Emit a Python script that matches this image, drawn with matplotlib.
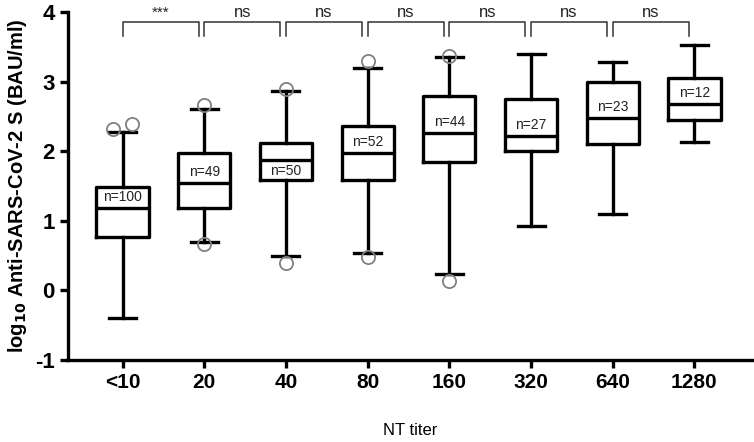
import matplotlib
matplotlib.use("Agg")
import matplotlib.pyplot as plt

plt.rcParams['font.family'] = ['Liberation Sans', 'DejaVu Sans']
plt.rcParams['axes.unicode_minus'] = False

# -----------------------------
# Data
# -----------------------------
titers = ['<10', '20', '40', '80', '160', '320', '640', '1280']
counts = [100, 49, 50, 52, 44, 27, 23, 12]
whis_lo = [-0.40, 0.69, 0.50, 0.53, 0.24, 0.92, 1.10, 2.13]
q1 = [0.77, 1.19, 1.58, 1.58, 1.85, 2.00, 2.11, 2.45]
median = [1.18, 1.54, 1.88, 1.97, 2.26, 2.22, 2.47, 2.68]
q3 = [1.49, 1.97, 2.12, 2.36, 2.79, 2.75, 3.00, 3.05]
whis_hi = [2.27, 2.60, 2.87, 3.20, 3.35, 3.39, 3.28, 3.53]
outliers = [[2.32, 2.39], [2.67, 0.66], [2.90, 0.40], [3.29, 0.48],
            [3.36, 0.14], [], [], []]
signif = ['***', 'ns', 'ns', 'ns', 'ns', 'ns', 'ns']

stats = []
for i in range(len(titers)):
    stats.append(dict(med=median[i], q1=q1[i], q3=q3[i],
                      whislo=whis_lo[i], whishi=whis_hi[i], fliers=[]))

fig = plt.figure(figsize=(7.54, 4.42), dpi=100)
ax = fig.add_axes([0.09, 0.1855, 0.909, 0.7875])

positions = list(range(len(titers)))
ax.bxp(stats, positions=positions, widths=0.64, showfliers=False,
       boxprops=dict(color='black', linewidth=2.4),
       medianprops=dict(color='black', linewidth=2.4),
       whiskerprops=dict(color='black', linewidth=2.4),
       capprops=dict(color='black', linewidth=2.4),
       capwidths=0.33)

# outliers: spread points that lie close together
for i, pts in enumerate(outliers):
    xs = [positions[i]] * len(pts)
    if len(pts) == 2 and abs(pts[0] - pts[1]) < 0.2:
        xs = [positions[i] - 0.12, positions[i] + 0.12]
    ax.plot(xs, pts, linestyle='none', marker='o', markerfacecolor='none',
            markeredgecolor='#808080', markersize=9.5, markeredgewidth=1.3,
            zorder=3)

# n labels next to the median line (below it when the upper half is narrow)
for i, n in enumerate(counts):
    if q3[i] - median[i] < 0.25:
        ax.text(positions[i], median[i] - 0.06, 'n=%d' % n, ha='center',
                va='top', fontsize=10, color='#222222')
    else:
        ax.text(positions[i], median[i] + 0.06, 'n=%d' % n, ha='center',
                va='bottom', fontsize=10, color='#222222')

# significance brackets between neighbouring groups
for i, s in enumerate(signif):
    x0, x1 = positions[i], positions[i + 1] - 0.07
    ax.plot([x0, x0, x1, x1], [3.66, 3.85, 3.85, 3.66], color='#333333',
            linewidth=1.1, clip_on=False)
    ax.text((x0 + x1) / 2, 3.89, s, ha='center', va='bottom',
            fontsize=12 if s == 'ns' else 11, color='#222222')

ax.set_xlim(-0.67, 7.72)
ax.set_ylim(-1, 4)
ax.set_yticks([-1, 0, 1, 2, 3, 4])
ax.set_xticks(positions)
ax.set_xticklabels(titers)

for sp in ['top', 'right']:
    ax.spines[sp].set_visible(False)
for sp in ['left', 'bottom']:
    ax.spines[sp].set_linewidth(2.4)

ax.tick_params(axis='both', width=2.4, length=6, direction='out')
for lab in ax.get_yticklabels():
    lab.set_fontsize(16)
    lab.set_fontweight('bold')
for lab in ax.get_xticklabels():
    lab.set_fontsize(15)
    lab.set_fontweight('bold')

ax.set_ylabel(r'log$_{\mathbf{10}}$ Anti-SARS-CoV-2 S (BAU/ml)',
              fontsize=14.5, fontweight='bold', labelpad=4)
ax.set_xlabel('NT titer', fontsize=12, labelpad=22)

plt.savefig('out.png', dpi=100)
plt.close()
